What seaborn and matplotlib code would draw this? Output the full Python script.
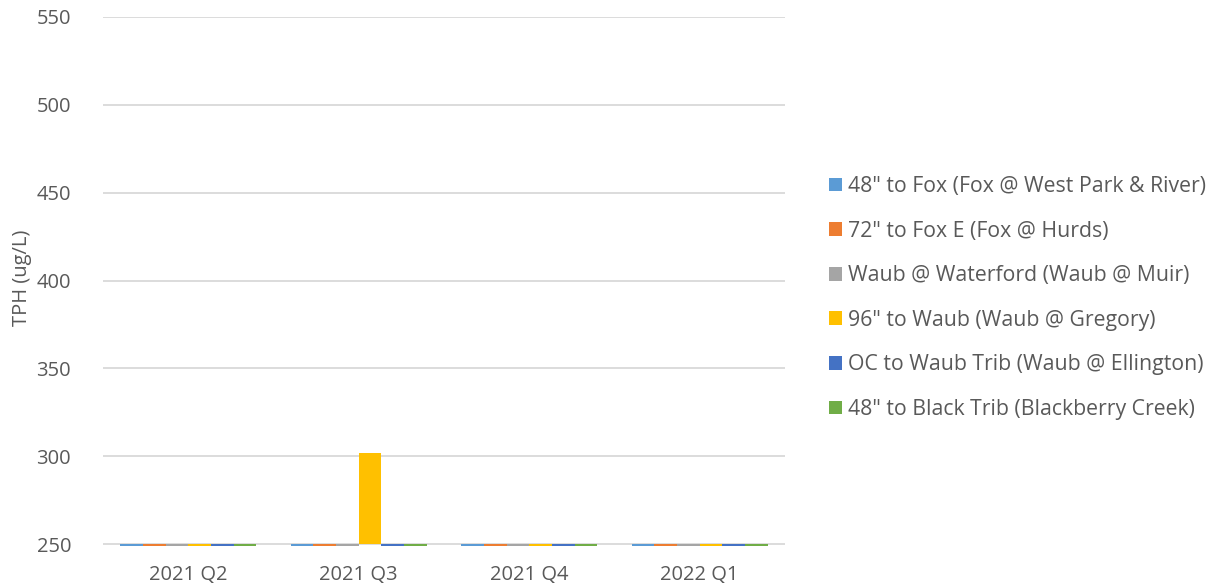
import matplotlib
matplotlib.use("Agg")
import matplotlib.pyplot as plt
from matplotlib.patches import Patch
import seaborn as sns
import pandas as pd

categories = ["2021 Q2", "2021 Q3", "2021 Q4", "2022 Q1"]
series = [
    '48" to Fox (Fox @ West Park & River)',
    '72" to Fox E (Fox @ Hurds)',
    'Waub @ Waterford (Waub @ Muir)',
    '96" to Waub (Waub @ Gregory)',
    'OC to Waub Trib (Waub @ Ellington)',
    '48" to Black Trib (Blackberry Creek)',
]
values = {
    series[0]: [0, 0, 0, 0],
    series[1]: [0, 0, 0, 0],
    series[2]: [0, 0, 0, 0],
    series[3]: [0, 302, 0, 0],
    series[4]: [0, 0, 0, 0],
    series[5]: [0, 0, 0, 0],
}
colors = ["#5B9BD5", "#ED7D31", "#A5A5A5", "#FFC000", "#4472C4", "#70AD47"]
y_ticks = [250, 300, 350, 400, 450, 500, 550]
axis_base = 250

rows = []
for s in series:
    for c, v in zip(categories, values[s]):
        rows.append({"Quarter": c, "Series": s, "Value": v, "Height": v - axis_base})
df = pd.DataFrame(rows)

sns.set_theme(style="white")
plt.rcParams["font.family"] = ["Open Sans", "DejaVu Sans"]
text_color = "#595959"

fig = plt.figure(figsize=(12.2, 5.86), dpi=100)
ax = fig.add_axes([103 / 1220, 1 - 546 / 586, (785 - 103) / 1220, (546 - 17) / 586])

sns.barplot(data=df, x="Quarter", y="Height", hue="Series", order=categories,
            hue_order=series, palette=colors, width=0.8, bottom=axis_base,
            saturation=1, linewidth=0, ax=ax, legend=False, errorbar=None)

ax.set_ylim(249.0, 550)
ax.set_xlim(-0.5, 3.5)
ax.set_yticks(y_ticks)
ax.yaxis.grid(True, color="#d9d9d9", linewidth=1.3)
ax.set_axisbelow(True)
for sp in ax.spines.values():
    sp.set_visible(False)
ax.tick_params(axis="both", length=0, labelsize=14.5, colors=text_color)
ax.tick_params(axis="y", pad=23)
ax.tick_params(axis="x", pad=14)
ax.set_xlabel("")
ax.set_ylabel("TPH (ug/L)", fontsize=14.5, color=text_color, labelpad=2)
ax.yaxis.set_label_coords(-0.104, 0.507)

handles = [Patch(facecolor=c, edgecolor="none") for c in colors]
leg = fig.legend(handles, series, loc="center left", bbox_to_anchor=(820 / 1220, 1 - 298 / 586),
                 frameon=False, fontsize=15.3, handlelength=0.65, handleheight=0.62,
                 handletextpad=0.25, labelspacing=1.11, borderaxespad=0)
for t in leg.get_texts():
    t.set_color(text_color)

fig.savefig("out.png", dpi=100)
